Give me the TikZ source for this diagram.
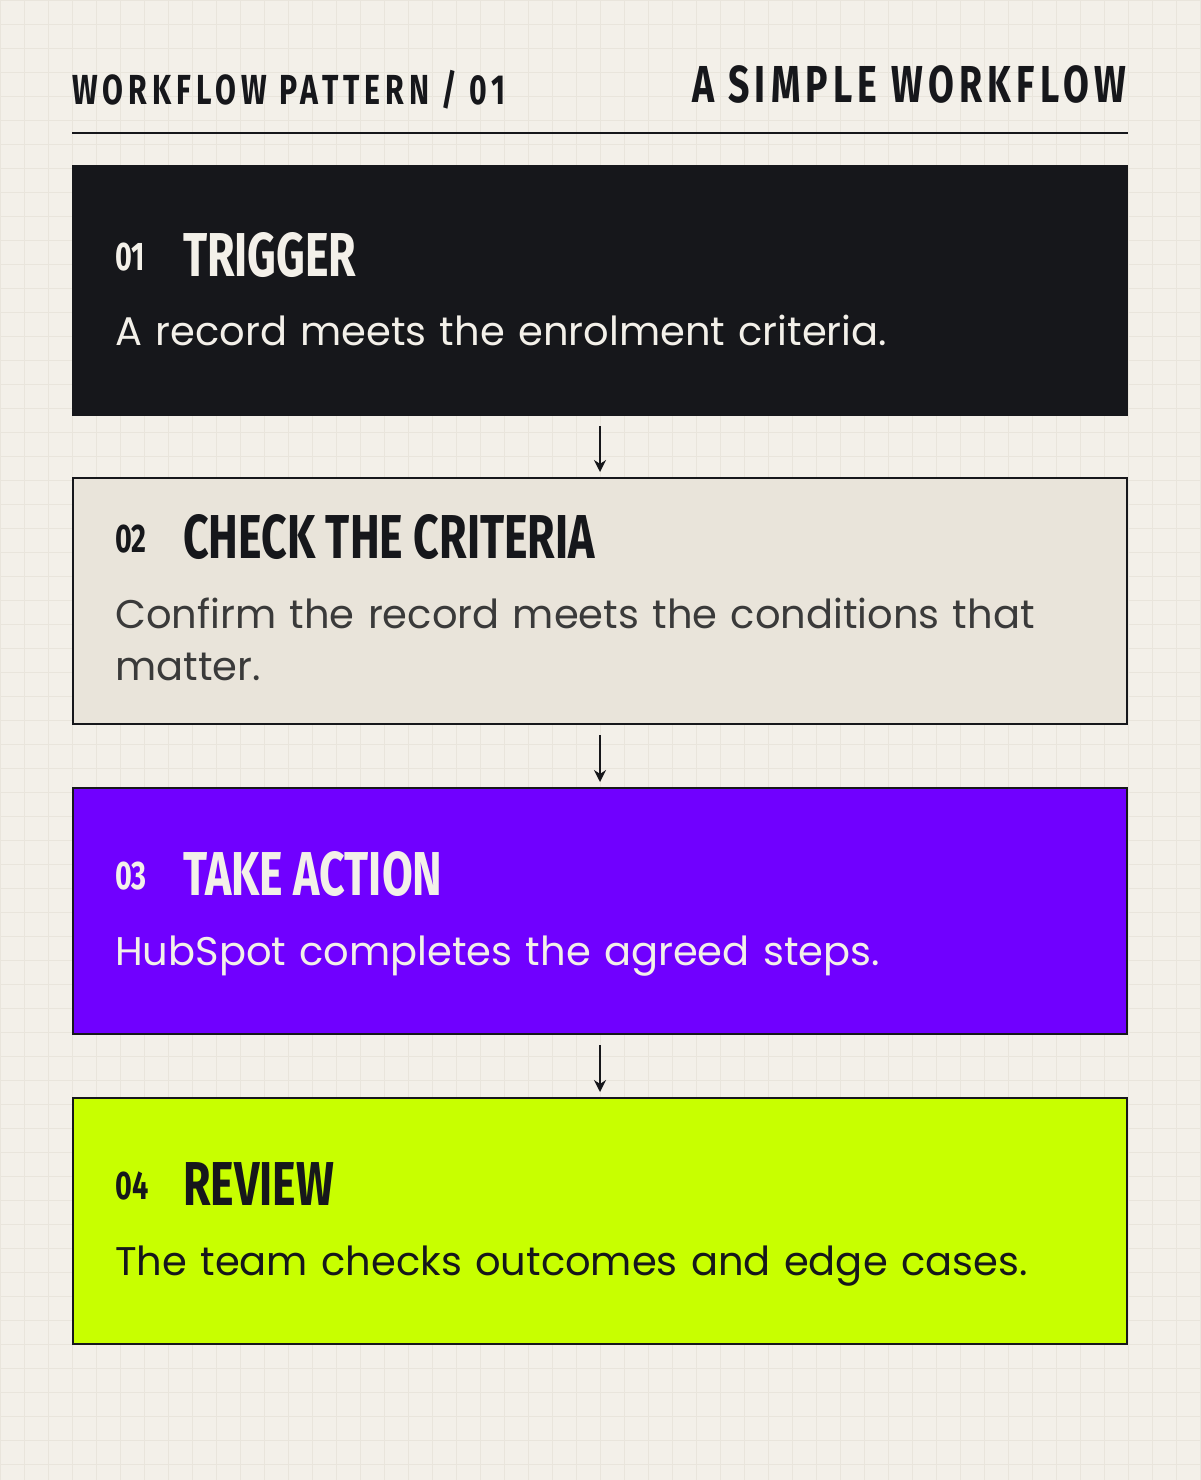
\documentclass[tikz,border=0pt]{standalone}
\usepackage{fontspec}
\setmainfont{Poppins}
\newfontfamily\condfont[FakeStretch=0.72]{Fira Sans}
\usetikzlibrary{arrows.meta,positioning}
\definecolor{paper}{HTML}{F3F0E9}
\definecolor{gridline}{HTML}{E9E5DC}
\definecolor{ink}{HTML}{16171B}
\definecolor{sand}{HTML}{E9E4DA}
\definecolor{violet}{HTML}{7000FF}
\definecolor{lime}{HTML}{C8FF00}
\definecolor{greytext}{HTML}{3A3A3A}
\tikzset{
  step box/.style={draw=ink, line width=2pt, minimum width=1054pt, minimum height=246pt, inner sep=0pt},
  step num/.style={anchor=base west, inner sep=0pt, font=\condfont\bfseries\fontsize{40}{40}\selectfont},
  step title/.style={anchor=base west, inner sep=0pt, font=\condfont\bfseries\fontsize{62}{62}\selectfont},
  step text/.style={anchor=base west, inner sep=0pt, font=\fontsize{40}{52}\selectfont, text width=985pt, align=left},
  flow/.style={-{Stealth[length=12pt,width=12pt]}, line width=2pt, draw=ink, shorten <=10pt, shorten >=5pt}
}
\begin{document}
\begin{tikzpicture}[x=1pt,y=-1pt]
\useasboundingbox (0,0) rectangle (1200,1480);
\fill[paper] (0,0) rectangle (1200,1480);
\draw[gridline, line width=0.8pt] (0,0) grid[step=24pt] (1200,1480);
% header
\node[anchor=base west, inner sep=0pt, font=\condfont\bfseries\fontsize{42}{42}\selectfont, text=ink] (pattern) at (72,104) {\addfontfeature{LetterSpace=12}WORKFLOW PATTERN / 01};
\node[anchor=base east, inner sep=0pt, font=\condfont\bfseries\fontsize{52}{52}\selectfont, text=ink] (heading) at (1126,102) {\addfontfeature{LetterSpace=10}A SIMPLE WORKFLOW};
\draw[ink, line width=2pt] (72,133) -- (1128,133);
% steps
\node[step box, fill=ink, minimum height=249pt] (trigger) at (600,290.5) {};
\node[step box, fill=sand] (check) at (600,601) {};
\node[step box, fill=violet] (action) at (600,911) {};
\node[step box, fill=lime] (review) at (600,1221) {};
%
\node[step num, text=paper] (n1) at (115,270) {01};
\node[step title, text=paper] (t1) at (183,276) {TRIGGER};
\node[step text, text=paper] (d1) at (115,345) {A record meets the enrolment criteria.};
\node[step num, text=ink] (n2) at (115,552) {02};
\node[step title, text=ink] (t2) at (183,558) {CHECK THE CRITERIA};
\node[step text, text=greytext] (d2) at (115,628) {Confirm the record meets the conditions that matter.};
\node[step num, text=paper] (n3) at (115,889) {03};
\node[step title, text=paper] (t3) at (183,895) {TAKE ACTION};
\node[step text, text=paper] (d3) at (115,965) {HubSpot completes the agreed steps.};
\node[step num, text=ink] (n4) at (115,1199) {04};
\node[step title, text=ink] (t4) at (183,1205) {REVIEW};
\node[step text, text=ink] (d4) at (115,1275) {The team checks outcomes and edge cases.};
%
\draw[flow] (trigger) -- (check);
\draw[flow] (check) -- (action);
\draw[flow] (action) -- (review);
\end{tikzpicture}
\end{document}
